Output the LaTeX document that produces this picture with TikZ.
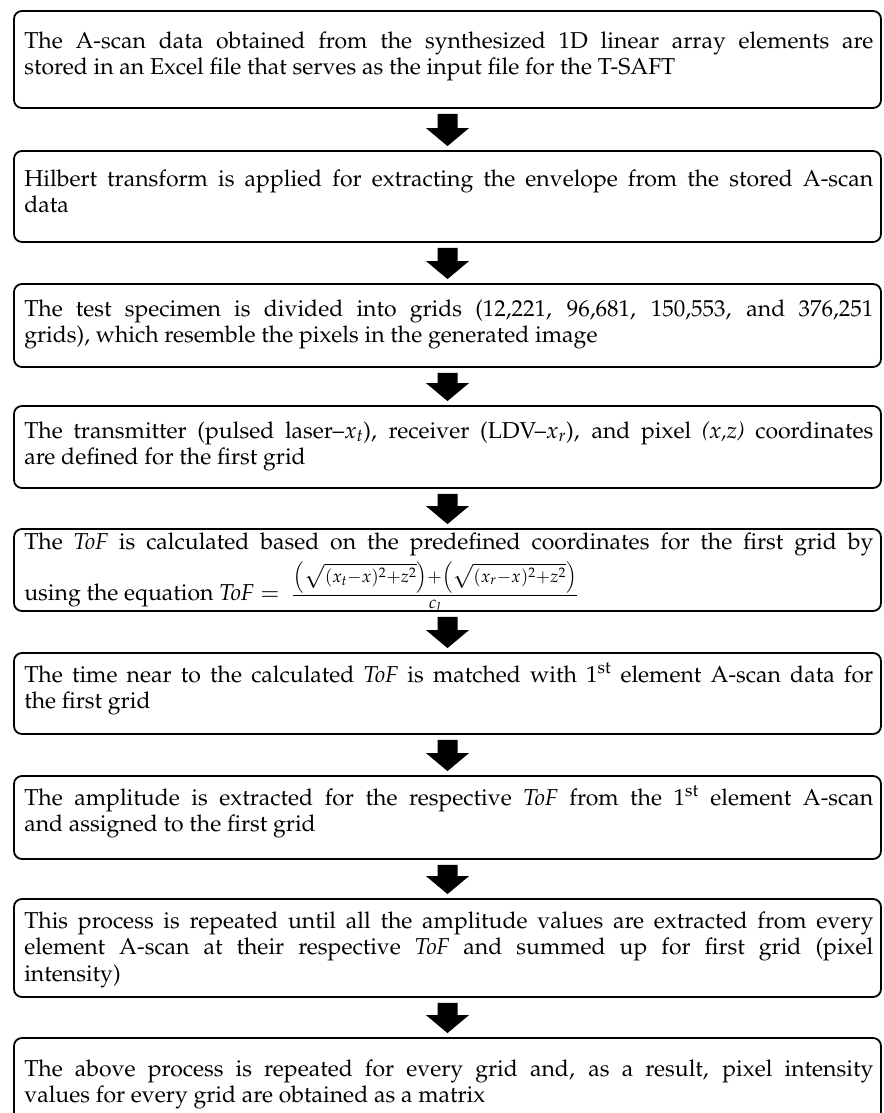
\documentclass[tikz,border=0pt]{standalone}
\usepackage[T1]{fontenc}
\usepackage{mathpazo}
\usetikzlibrary{calc}
\tikzset{
  flowbox/.style={draw, line width=1.8pt, rounded corners=8pt, minimum width=867pt, inner sep=0pt},
  flowtext/.style={anchor=north west, inner sep=0pt, text width=849pt, align=justify,
    font={\fontsize{23}{26.5}\selectfont\tolerance=10000\hyphenpenalty=10000\exhyphenpenalty=10000}},
  blockarrow/.style={to path={let \p1=(\tikztostart), \p2=(\tikztotarget) in
    (\x1-10pt,\y1-5pt) -- (\x1+10pt,\y1-5pt) -- (\x1+10pt,\y2+22pt) -- (\x1+21.5pt,\y2+22pt)
    -- (\x1,\y2+4pt) -- (\x1-21.5pt,\y2+22pt) -- (\x1-10pt,\y2+22pt) -- cycle}}
}
\newcommand\firststrut{\rule{0pt}{20pt}}
\begin{document}
\begin{tikzpicture}[x=1pt,y=1pt]
\clip (0,0) rectangle (883,1113);
% boxes
\node[flowbox, minimum height=97pt] (b1) at (447.5,1053.5) {};
\node[flowbox, minimum height=91pt] (b2) at (447.5,916.5) {};
\node[flowbox, minimum height=83pt] (b3) at (447.5,787.5) {};
\node[flowbox, minimum height=82pt] (b4) at (447.5,666) {};
\node[flowbox, minimum height=82pt] (b5) at (447.5,543) {};
\node[flowbox, minimum height=81pt] (b6) at (447.5,419.5) {};
\node[flowbox, minimum height=83pt] (b7) at (447.5,295.5) {};
\node[flowbox, minimum height=98pt] (b8) at (447.5,165) {};
\node[flowbox, minimum height=100pt] (b9) at (447.5,25) {};
% texts
\node[flowtext] (t1) at ($(b1.north west)+(11pt,-18pt)$) {\firststrut The A-scan data obtained from the synthesized 1D linear array elements are\linebreak stored in an Excel file that serves as the input file for the T-SAFT};
\node[flowtext] (t2) at ($(b2.north west)+(11pt,-16pt)$) {\firststrut Hilbert transform is applied for extracting the envelope from the stored A-scan\linebreak data};
\node[flowtext] (t3) at ($(b3.north west)+(11pt,-13pt)$) {\firststrut The test specimen is divided into grids (12,221, 96,681, 150,553, and 376,251\linebreak grids), which resemble the pixels in the generated image};
\node[flowtext] (t4) at ($(b4.north west)+(11pt,-13pt)$) {\firststrut The transmitter (pulsed laser--$x_t$), receiver (LDV--$x_r$), and pixel \textit{(x,z)} coordinates\linebreak are defined for the first grid};
\node[flowtext] (t5) at ($(b5.north west)+(11pt,-1pt)$) {\firststrut The \textit{ToF} is calculated based on the predefined coordinates for the first grid by\linebreak \rule{0pt}{44pt}using the equation $\mathit{ToF} =\;\frac{\left(\sqrt{(x_t-x)^2+z^2}\right)+\left(\sqrt{(x_r-x)^2+z^2}\right)}{c_l}$};
\node[flowtext] (t6) at ($(b6.north west)+(11pt,-10pt)$) {\firststrut The time near to the calculated \textit{ToF} is matched with 1\textsuperscript{st} element A-scan data for\linebreak the first grid};
\node[flowtext] (t7) at ($(b7.north west)+(11pt,-10pt)$) {\firststrut The amplitude is extracted for the respective \textit{ToF} from the 1\textsuperscript{st} element A-scan\linebreak and assigned to the first grid};
\node[flowtext] (t8) at ($(b8.north west)+(11pt,-10pt)$) {\firststrut This process is repeated until all the amplitude values are extracted from every\linebreak element A-scan at their respective \textit{ToF} and summed up for first grid (pixel\linebreak intensity)};
\node[flowtext] (t9) at ($(b9.north west)+(11pt,-19pt)$) {\firststrut The above process is repeated for every grid and, as a result, pixel intensity\linebreak values for every grid are obtained as a matrix};
% arrows
\fill (b1.south) to[blockarrow] (b2.north);
\fill (b2.south) to[blockarrow] (b3.north);
\fill (b3.south) to[blockarrow] (b4.north);
\fill (b4.south) to[blockarrow] (b5.north);
\fill (b5.south) to[blockarrow] (b6.north);
\fill (b6.south) to[blockarrow] (b7.north);
\fill (b7.south) to[blockarrow] (b8.north);
\fill (b8.south) to[blockarrow] (b9.north);
\end{tikzpicture}
\end{document}
